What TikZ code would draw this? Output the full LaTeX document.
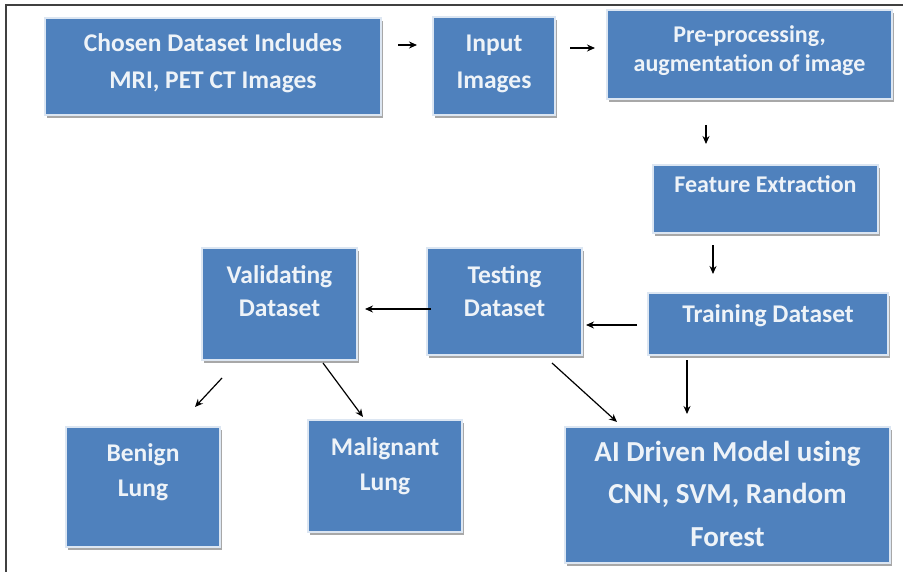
\documentclass[tikz,border=0pt]{standalone}
\usepackage{fontspec}
\setmainfont{Carlito}
\usetikzlibrary{arrows.meta,shadows}
\definecolor{panelblue}{HTML}{4F81BD}
\definecolor{panelrim}{HTML}{DCE6F2}
\definecolor{labelwhite}{HTML}{EEF3F8}
\tikzset{
  panel/.style={rectangle, fill=panelblue, draw=panelrim, line width=1.3pt,
    inner sep=0pt, outer sep=0pt,
    drop shadow={shadow xshift=2pt, shadow yshift=-3pt, fill=black!45, opacity=0.75}},
  caption/.style={anchor=base, align=center, text=labelwhite, inner sep=0pt,
    font=\bfseries\fontsize{25.5}{33}\selectfont},
  arr/.style={line width=1.2pt, -{Stealth[length=8pt,width=7pt]}},
  frame/.style={line width=1.6pt, draw=black!75}
}
\begin{document}
\begin{tikzpicture}[x=1pt,y=-1pt]
\useasboundingbox[fill=white] (0,0) rectangle (907,572);
\draw[frame] (6,572) -- (6,5) -- (903,5);

% boxes
\node[panel, minimum width=336pt, minimum height=97pt]  (chosen) at (213,66.5) {};
\node[panel, minimum width=122pt, minimum height=98pt]  (input)  at (494,66) {};
\node[panel, minimum width=285pt, minimum height=89pt]  (pre)    at (749.5,54.5) {};
\node[panel, minimum width=225pt, minimum height=68pt]  (feat)   at (765.5,199) {};
\node[panel, minimum width=240pt, minimum height=62pt]  (train)  at (768,324) {};
\node[panel, minimum width=155pt, minimum height=107pt] (test)   at (504.5,301.5) {};
\node[panel, minimum width=155pt, minimum height=112pt] (valid)  at (279.5,304) {};
\node[panel, minimum width=154pt, minimum height=120pt] (benign) at (143,487) {};
\node[panel, minimum width=154pt, minimum height=112pt] (malig)  at (385,476) {};
\node[panel, minimum width=325pt, minimum height=136pt] (model)  at (727.5,495) {};

% captions (placed on the baseline of their last line)
\node[caption, font=\bfseries\fontsize{25.5}{37}\selectfont] (chosenT) at (213,89) {Chosen Dataset Includes\\MRI, PET CT Images};
\node[caption, font=\bfseries\fontsize{25.5}{37}\selectfont] (inputT) at (494,89) {Input\\Images};
\node[caption, font=\bfseries\fontsize{24}{29}\selectfont] (preT) at (749.5,72) {Pre-processing,\\augmentation of image};
\node[caption, font=\bfseries\fontsize{24}{29}\selectfont] (featT) at (765.5,193) {Feature Extraction};
\node[caption] (trainT) at (768,322) {Training Dataset};
\node[caption] (testT) at (504.5,316) {Testing\\Dataset};
\node[caption] (validT) at (279.5,316) {Validating\\Dataset};
\node[caption, font=\bfseries\fontsize{25.5}{35}\selectfont] (benignT) at (143,496) {Benign\\Lung};
\node[caption, font=\bfseries\fontsize{25.5}{35}\selectfont] (maligT) at (385,490) {Malignant\\Lung};
\node[caption, font=\bfseries\fontsize{29}{42.5}\selectfont] (modelT) at (727.5,546) {AI Driven Model using\\CNN, SVM, Random\\Forest};

% connectors
\draw[arr] ([xshift=17pt,yshift=21.5pt]chosen.east) -- ([xshift=-16pt,yshift=21pt]input.west);
\draw[arr] ([xshift=15pt,yshift=18pt]input.east) -- ([xshift=-12pt,yshift=6.5pt]pre.west);
\draw[arr] ([xshift=-43.5pt,yshift=-26pt]pre.south) -- ([xshift=-59.5pt,yshift=21pt]feat.north);
\draw[arr] ([xshift=-52.5pt,yshift=-12pt]feat.south) -- ([xshift=-55pt,yshift=19pt]train.north);
\draw[arr] ([xshift=-11pt,yshift=-1pt]train.west) -- ([xshift=4pt,yshift=-23.5pt]test.east);
\draw[arr] ([xshift=4pt,yshift=-7.5pt]test.west) -- ([xshift=8pt,yshift=-5pt]valid.east);
\draw[arr] ([xshift=-57.5pt,yshift=-18pt]valid.south) -- ([xshift=52pt,yshift=20pt]benign.north);
\draw[arr] ([xshift=43.5pt,yshift=-3pt]valid.south) -- ([xshift=-22pt,yshift=3pt]malig.north);
\draw[arr] ([xshift=47.5pt,yshift=-8pt]test.south) -- ([xshift=-110.5pt,yshift=5pt]model.north);
\draw[arr] ([xshift=-81pt,yshift=-5pt]train.south) -- ([xshift=-40.5pt,yshift=13pt]model.north);
\end{tikzpicture}
\end{document}
